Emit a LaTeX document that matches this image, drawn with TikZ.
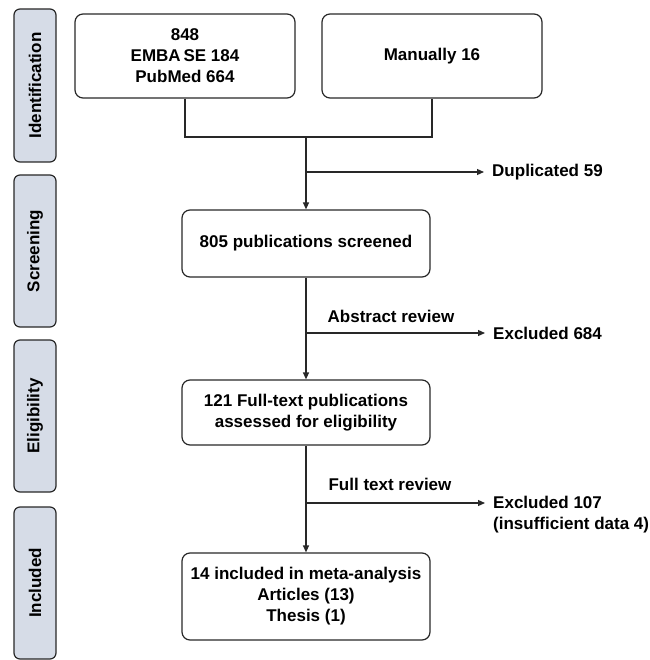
\documentclass[tikz,border=0pt]{standalone}
\usepackage{fontspec}
\setmainfont{Liberation Sans}
\usetikzlibrary{arrows.meta}
\definecolor{stagefill}{RGB}{214,220,231}
\definecolor{edge}{RGB}{40,40,40}

\begin{document}
\begin{tikzpicture}[x=1pt,y=-1pt,
	font=\fontsize{17}{21}\selectfont\bfseries,
	stage/.style={draw=edge,fill=stagefill,line width=1.2pt,rounded corners=6pt,
		rotate=90,minimum width=152pt,minimum height=42pt,inner sep=0pt},
	box/.style={draw=edge,line width=1.2pt,rounded corners=8pt,align=center,inner sep=0pt},
	flow/.style={draw=edge,line width=1.2pt,-{Triangle[length=7pt,width=6pt]}},
	link/.style={draw=edge,line width=1.2pt},
	note/.style={align=left,inner sep=0pt}]

\useasboundingbox (0,0) rectangle (649,660);

\node[stage,minimum width=153pt] (ident) at (35,85.5) {Identification};
\node[stage] (screening) at (35,251) {Screening};
\node[stage] (eligible) at (35,416) {Eligibility};
\node[stage] (included) at (35,583) {Included};

\node[box,minimum width=220pt,minimum height=84pt] (dbsearch) at (185,56) {848\\EMBA\,SE 184\\PubMed 664};
\node[box,minimum width=220pt,minimum height=84pt] (manual) at (432,56) {Manually 16};
\node[box,minimum width=248pt,minimum height=67pt] (screened) at (306,243.5) {805 publications screened};
\node[box,minimum width=248pt,minimum height=65pt] (fulltext) at (306,412.5) {121 Full-text publications\\assessed for eligibility};
\node[box,minimum width=248pt,minimum height=87pt] (meta) at (306,596.5) {14 included in meta-analysis\\Articles (13)\\Thesis (1)};

\coordinate (merge) at (306,137);
\coordinate (dupcut) at (306,172);
\coordinate (abscut) at (306,333);
\coordinate (fullcut) at (306,503);

\node[note,anchor=west] (dup) at (484,172) {\hspace{8pt}Duplicated 59};
\node[note,anchor=west] (excl1) at (485,333) {\hspace{8pt}Excluded 684};
\node[note,anchor=north west] (excl2) at (485,496) {\hspace{8pt}Excluded 107\\\hspace{8pt}(insufficient data 4)};
\node[note] (absrev) at (391,316) {Abstract review};
\node[note] (fullrev) at (390,484) {Full text review};

\draw[link] (dbsearch.south) |- (merge) -| (manual.south);
\draw[flow] (merge) -- (screened.north);
\draw[flow] (dupcut) -- (dup.west);
\draw[flow] (screened.south) -- (fulltext.north);
\draw[flow] (abscut) -- (excl1.west);
\draw[flow] (fulltext.south) -- (meta.north);
\draw[flow] (fullcut) -- (excl2.west |- fullcut);

\end{tikzpicture}
\end{document}
